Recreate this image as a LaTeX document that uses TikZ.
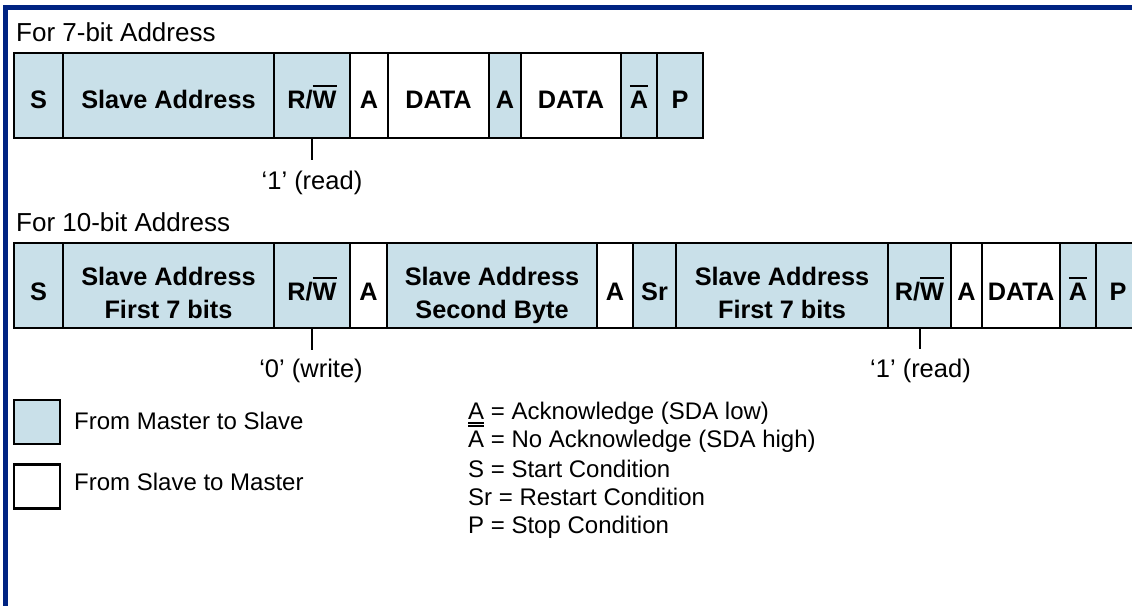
\documentclass[tikz,border=0pt]{standalone}
\usepackage{fontspec}
\setmainfont{Liberation Sans}
\definecolor{mblue}{RGB}{201,224,233}
\definecolor{framec}{RGB}{0,35,130}
\newcommand\ovl[1]{\setbox0\hbox{#1}\rlap{\smash{\rule[\dimexpr\ht0+4pt\relax]{\wd0}{1.8pt}}}\box0\relax}
\newcommand\unl[1]{\setbox0\hbox{#1}\rlap{\smash{\rule[-4.2pt]{\wd0}{1.5pt}}}\box0\relax}
\newcommand\ra[1]{\raisebox{-13pt}[0pt][0pt]{#1}}
\newcommand\rb[1]{\raisebox{-14.5pt}[0pt][0pt]{#1}}
\newcommand\rc[2]{\raisebox{0pt}[0pt][0pt]{\begin{tabular}[t]{@{}c@{}}#1\\#2\end{tabular}}}
\newcommand\cell[6]{\node[#1, minimum width={(#4-#3)*1pt}] (#2) at ({(#3+#4)/2},#5) {#6};}
\tikzset{
  cellbox/.style={draw, line width=2pt, inner sep=0pt, outer sep=0pt, minimum height=85pt,
    font=\fontsize{25.3}{32.5}\selectfont\bfseries},
  ms/.style={cellbox, fill=mblue},
  sm/.style={cellbox, fill=white},
  title/.style={font=\fontsize{26}{30}\selectfont, inner sep=0pt, anchor=base west},
  bitlbl/.style={font=\fontsize{25.5}{30}\selectfont, inner sep=0pt, anchor=base},
  leg/.style={font=\fontsize{24}{28}\selectfont, inner sep=0pt, anchor=base west},
  tick/.style={line width=2pt},
  legbox/.style={draw, line width=2.2pt, inner sep=0pt, minimum width=46pt, minimum height=44pt},
}
\begin{document}
\begin{tikzpicture}[x=1pt,y=-1pt]
\useasboundingbox (0,0) rectangle (1132,605);
% frame
\draw[framec, line width=4.5pt] (5.5,606) -- (5.5,7.5) -- (1133,7.5);

% 7-bit
\node[title] (t7) at (16,41.5) {For 7-bit Address};
\cell{ms}{a1}{14}{63}{95.5}{\ra{S}}
\cell{ms}{a2}{63}{274}{95.5}{\ra{Slave Address}}
\cell{ms}{a3}{274}{350}{95.5}{\ra{R/\ovl{W}}}
\cell{sm}{a4}{350}{388}{95.5}{\ra{A}}
\cell{sm}{a5}{388}{489}{95.5}{\ra{DATA}}
\cell{ms}{a6}{489}{521}{95.5}{\ra{A}}
\cell{sm}{a7}{521}{621}{95.5}{\ra{DATA}}
\cell{ms}{a8}{621}{657}{95.5}{\ra{\ovl{A}}}
\cell{ms}{a9}{657}{703}{95.5}{\ra{P}}
\coordinate (ta) at (312,160);
\draw[tick] (a3.south) -- (ta);
\node[bitlbl] (la) at (312,189) {‘1’ (read)};

% 10-bit
\node[title] (t10) at (16,231.5) {For 10-bit Address};
\cell{ms}{b1}{14}{63}{285.5}{\rb{S}}
\cell{ms}{b2}{63}{274}{285.5}{\rc{Slave Address}{First 7 bits}}
\cell{ms}{b3}{274}{350}{285.5}{\rb{R/\ovl{W}}}
\cell{sm}{b4}{350}{387}{285.5}{\rb{A}}
\cell{ms}{b5}{387}{597}{285.5}{\rc{Slave Address}{Second Byte}}
\cell{sm}{b6}{597}{633}{285.5}{\rb{A}}
\cell{ms}{b7}{633}{676}{285.5}{\rb{Sr}}
\cell{ms}{b8}{676}{888}{285.5}{\rc{Slave Address}{First 7 bits}}
\cell{ms}{b9}{888}{951}{285.5}{\rb{R/\ovl{W}}}
\cell{sm}{b10}{951}{982}{285.5}{\rb{A}}
\cell{sm}{b11}{982}{1060}{285.5}{\rb{DATA}}
\cell{ms}{b12}{1060}{1096}{285.5}{\rb{\ovl{A}}}
\cell{ms}{b13}{1096}{1140}{285.5}{\rb{P}}
\coordinate (tb) at (312,350);
\coordinate (tc) at (919.5,349);
\draw[tick] (b3.south) -- (tb);
\draw[tick] (b9.south) -- (tc);
\node[bitlbl] (lb) at (311,377) {‘0’ (write)};
\node[bitlbl] (lc) at (920.5,377.5) {‘1’ (read)};

% legend
\node[legbox, fill=mblue] (k1) at (37,422) {};
\node[legbox, fill=white] (k2) at (37,486.5) {};
\node[leg] (k1t) at (74,429.3) {From Master to Slave};
\node[leg] (k2t) at (74,490.7) {From Slave to Master};
\node[leg] (d1) at (468,419.3) {\unl{A} = Acknowledge (SDA low)};
\node[leg] (d2) at (468,447.3) {\ovl{A} = No Acknowledge (SDA high)};
\node[leg] (d3) at (468,477.3) {S = Start Condition};
\node[leg] (d4) at (468,505) {Sr = Restart Condition};
\node[leg] (d5) at (468,533.3) {P = Stop Condition};
\end{tikzpicture}
\end{document}
